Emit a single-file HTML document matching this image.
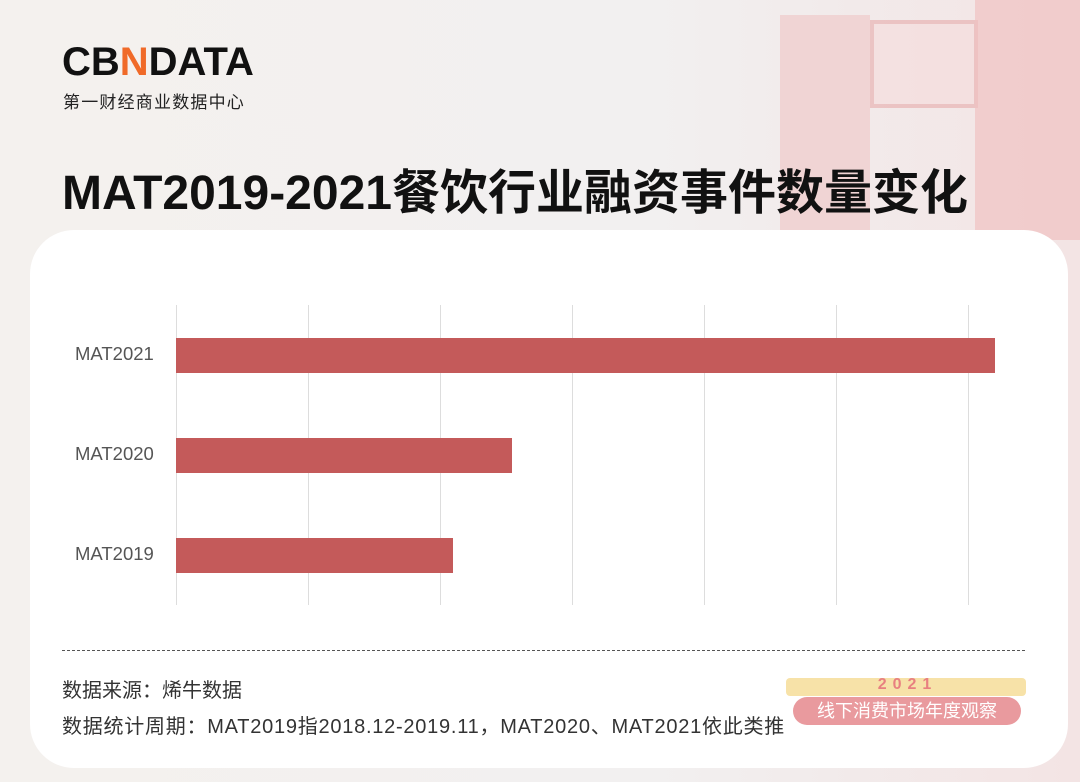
<!DOCTYPE html>
<html><head><meta charset="utf-8"><style>
body{margin:0;width:1080px;height:782px;overflow:hidden;background:#f3eeee;font-family:"Liberation Sans","Noto Sans CJK SC",sans-serif;position:relative}
.bg{position:absolute;inset:0;background:linear-gradient(90deg,#f4f1ee 0%,#f2f0f0 60%,#f3e4e4 100%)}
.bld{position:absolute;background:#f2c9c9;opacity:.7}
.card{position:absolute;left:30px;top:230px;width:1038px;height:538px;background:#fff;border-radius:44px}
.t{position:absolute;white-space:nowrap}
.g{position:absolute;top:305px;height:300px;width:1px;background:#ddd}
.bar{position:absolute;left:176px;height:35px;background:#c45a5a}
.lab{position:absolute;left:75px;font-size:18.5px;color:#555}
</style></head><body>
<div class="bg"></div>
<div class="bld" style="left:780px;top:15px;width:90px;height:230px;background:#f0caca"></div>
<div class="bld" style="left:870px;top:20px;width:100px;height:80px;background:#f5dede;border:4px solid #e9b4b4"></div>
<div class="bld" style="left:975px;top:0;width:105px;height:240px;background:#efc2c2"></div>
<div class="t" style="left:62px;top:40px;font-size:40px;font-weight:bold;letter-spacing:0px;color:#111">CB<span style="color:#f06a28">N</span>DATA</div>
<div class="t" style="left:63px;top:88px;font-size:17px;letter-spacing:1.2px;color:#222">第一财经商业数据中心</div>
<div class="t" style="left:62px;top:153px;font-size:48px;font-weight:bold;color:#111">MAT2019-2021餐饮行业融资事件数量变化</div>
<div class="card"></div>
<div class="g" style="left:176px"></div><div class="g" style="left:308px"></div><div class="g" style="left:440px"></div><div class="g" style="left:572px"></div><div class="g" style="left:704px"></div><div class="g" style="left:836px"></div><div class="g" style="left:968px"></div>
<div class="bar" style="top:338px;width:819px"></div>
<div class="bar" style="top:438px;width:336px"></div>
<div class="bar" style="top:538px;width:277px"></div>
<div class="lab t" style="top:343px">MAT2021</div>
<div class="lab t" style="top:443px">MAT2020</div>
<div class="lab t" style="top:543px">MAT2019</div>
<div style="position:absolute;left:62px;top:650px;width:963px;border-top:1.5px dashed #555"></div>
<div class="t" style="left:62px;top:674px;font-size:20px;color:#333">数据来源：烯牛数据</div>
<div class="t" style="left:62px;top:710px;font-size:20px;letter-spacing:0.75px;color:#333">数据统计周期：MAT2019指2018.12-2019.11，MAT2020、MAT2021依此类推</div>
<div style="position:absolute;left:786px;top:678px;width:240px;height:18px;background:#f7e2a8;border-radius:4px"></div>
<div class="t" style="left:860px;top:676px;width:95px;text-align:center;font-size:16px;font-weight:bold;color:#e88080;letter-spacing:6px">2021</div>
<div class="t" style="left:793px;top:697px;width:228px;height:28px;line-height:28px;background:#e99a9e;border-radius:14px;color:#fff;font-size:18px;text-align:center">线下消费市场年度观察</div>
</body></html>
